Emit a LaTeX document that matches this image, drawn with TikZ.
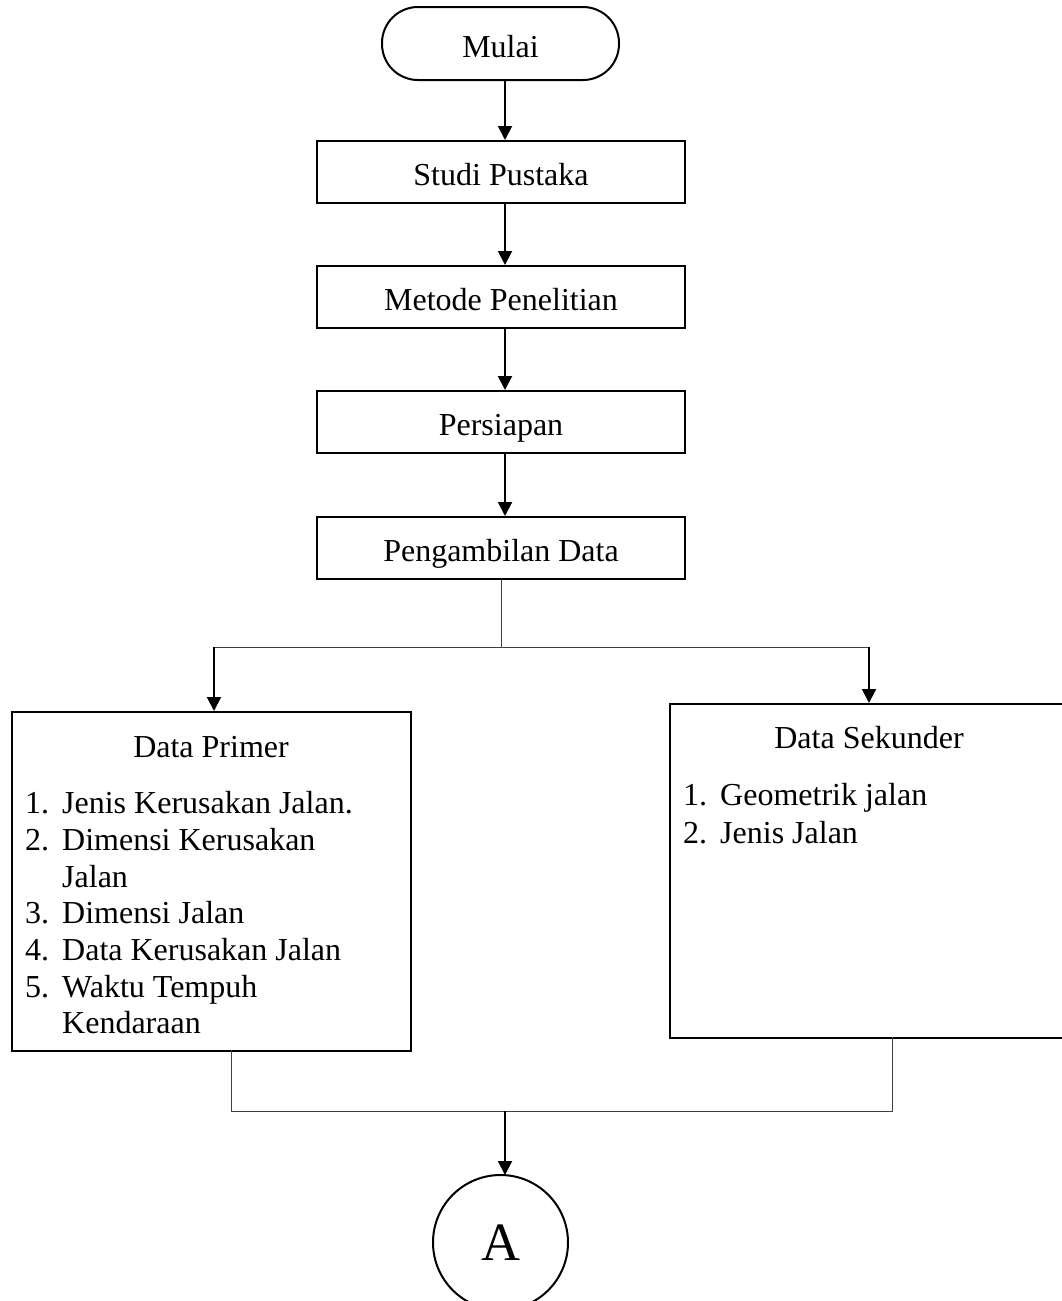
\documentclass[tikz,border=0pt]{standalone}
\usepackage{fontspec}
\setmainfont{Liberation Serif}
\usetikzlibrary{arrows.meta}
\begin{document}
\begin{tikzpicture}[x=1pt,y=-1pt,
  txt/.style={font=\fontsize{32}{37}\selectfont, inner sep=0pt},
  stepbox/.style={draw, line width=2pt, minimum width=368pt, minimum height=62pt,
    inner sep=0pt, text height=27pt, text depth=0pt, anchor=north west, txt},
  bigbox/.style={draw, line width=2pt, inner sep=0pt, anchor=north west},
  item/.style={txt, anchor=base west},
  flow/.style={line width=2pt, -{Triangle[width=14pt,length=14pt]}},
  thin/.style={line width=1pt, draw=black!75}
]
\useasboundingbox (0,0) rectangle (1062,1301);
\clip (0,0) rectangle (1062,1301);

% terminator
\node[draw, line width=2pt, rounded corners=36pt, minimum width=237pt, minimum height=73pt,
  inner sep=0pt, text height=27pt, text depth=0pt, txt] (mulai) at (500.5,43.5) {Mulai};

\node[stepbox] (studi) at (316,140) {Studi Pustaka};
\node[stepbox] (metode) at (316,265) {Metode Penelitian};
\node[stepbox] (persiapan) at (316,390) {Persiapan};
\node[stepbox] (ambil) at (316,516) {Pengambilan Data};

\draw[flow] (505,80) -- (505,140);
\draw[flow] (505,202) -- (505,265);
\draw[flow] (505,327) -- (505,390);
\draw[flow] (505,452) -- (505,516);

% data primer
\node[bigbox, minimum width=399pt, minimum height=339pt] (primer) at (11,711) {};
\node[txt, anchor=base] (ptitle) at (211,757) {Data Primer};
\node[item] (p1) at (25,813) {\makebox[37pt][l]{1.}Jenis Kerusakan Jalan.};
\node[item] (p2) at (25,850) {\makebox[37pt][l]{2.}Dimensi Kerusakan};
\node[item] (p2b) at (62,887) {Jalan};
\node[item] (p3) at (25,923) {\makebox[37pt][l]{3.}Dimensi Jalan};
\node[item] (p4) at (25,960) {\makebox[37pt][l]{4.}Data Kerusakan Jalan};
\node[item] (p5) at (25,997) {\makebox[37pt][l]{5.}Waktu Tempuh};
\node[item] (p5b) at (62,1033) {Kendaraan};

% data sekunder
\node[bigbox, minimum width=400pt, minimum height=334pt] (sekunder) at (669,703) {};
\node[txt, anchor=base] (stitle) at (869,748) {Data Sekunder};
\node[item] (s1) at (683,805) {\makebox[37pt][l]{1.}Geometrik jalan};
\node[item] (s2) at (683,843) {\makebox[37pt][l]{2.}Jenis Jalan};

% split
\coordinate (split) at (501,647);
\coordinate (sl) at (214,647);
\coordinate (sr) at (869,647);
\draw[thin] (501,580) -- (split);
\draw[thin] (sl) -- (sr);
\draw[flow] (sl) -- (214,711);
\draw[flow] (sr) -- (869,703);

% join
\coordinate (jl) at (231,1111);
\coordinate (jr) at (892,1111);
\draw[thin] (231,1050) -- (jl) -- (jr) -- (892,1037);

% connector A
\node[draw, circle, line width=2pt, minimum size=135pt, inner sep=0pt,
  font=\fontsize{54}{60}\selectfont] (A) at (500.5,1242.5) {A};
\draw[flow] (505,1111) -- (505,1175);
\end{tikzpicture}
\end{document}
